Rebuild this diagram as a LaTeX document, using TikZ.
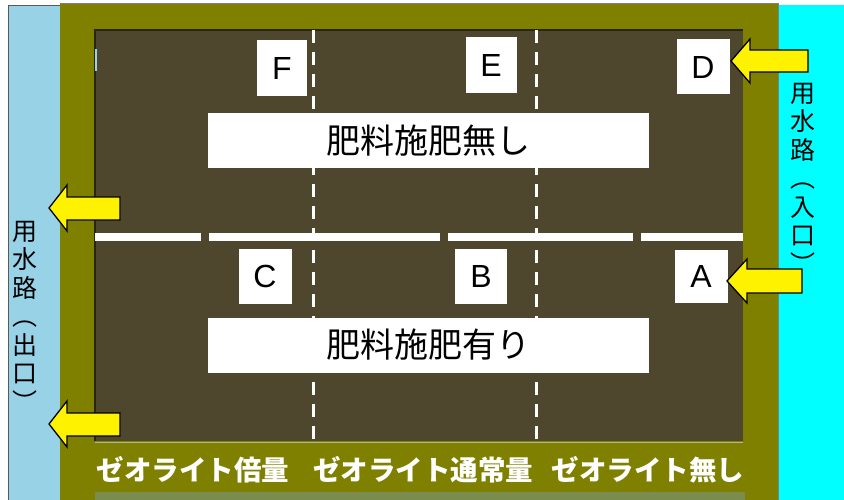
\documentclass[tikz,border=0pt]{standalone}
\usepackage{fontspec}
\setmainfont{Liberation Sans}
\newfontfamily\jp{Noto Sans CJK JP}
\definecolor{waterL}{RGB}{152,210,230}
\definecolor{waterR}{RGB}{0,255,255}
\definecolor{bank}{RGB}{128,128,0}
\definecolor{soil}{RGB}{78,71,45}
\definecolor{soiledge}{RGB}{40,36,22}
\definecolor{strip}{RGB}{122,140,78}
\tikzset{
  plotlabel/.style={fill=white, inner sep=0pt, font=\fontsize{32}{32}\selectfont},
  bandlabel/.style={fill=white, inner sep=0pt, minimum width=441pt, minimum height=55pt, font=\jp\fontsize{34}{34}\selectfont},
  zeolabel/.style={text=white, inner sep=0pt, font=\jp\bfseries\fontsize{27.5}{27.5}\selectfont},
  sidetext/.style={inner sep=0pt, align=center, anchor=north, font=\jp\fontsize{25}{28.5}\selectfont},
  inflow/.style={fill=yellow, draw=black, line width=1.3pt, line join=miter},
  levee/.style={white, line width=8pt},
  ridge/.style={white, line width=3pt, dash pattern=on 13pt off 9pt}
}
\begin{document}
\begin{tikzpicture}[x=1pt,y=-1pt]
\useasboundingbox (0,0) rectangle (844,500);
\fill[white] (0,0) rectangle (844,500);
% water channels and bank
\fill[waterL] (8,5) rectangle (60,500);
\draw[gray!70!black, line width=0.8pt] (8,500) -- (8,5) -- (60,5);
\fill[waterR] (778,5) rectangle (844,500);
\fill[bank] (60,3) rectangle (778,500);
\draw[gray, line width=0.6pt] (60,3) -- (778,3) -- (778,500);
% field
\fill[strip] (95,492) rectangle (745,500);
\fill[soil] (95,30) rectangle (743,441);
\draw[soiledge, line width=1.2pt] (95,441) -- (95,30) -- (743,30);
\draw[strip!60!white, line width=1pt] (95,442) -- (743,442);
\draw[waterL, line width=1.5pt] (96,49) -- (96,71);
% ridges
\coordinate (r1t) at (313,30); \coordinate (r1b) at (313,441);
\coordinate (r2t) at (536,30); \coordinate (r2b) at (536,441);
\draw[ridge] (r1t) -- (r1b);
\draw[ridge] (r2t) -- (r2b);
\coordinate (l0) at (95,237); \coordinate (l1) at (201,237);
\coordinate (l2) at (209,237); \coordinate (l3) at (440,237);
\coordinate (l4) at (448,237); \coordinate (l5) at (633,237);
\coordinate (l6) at (641,237); \coordinate (l7) at (743,237);
\draw[levee] (l0) -- (l1);
\draw[levee] (l2) -- (l3);
\draw[levee] (l4) -- (l5);
\draw[levee] (l6) -- (l7);
% plot labels
\node[plotlabel, minimum width=50pt, minimum height=56pt] (F) at (282,68) {F};
\node[plotlabel, minimum width=51pt, minimum height=56pt] (E) at (491,65) {E};
\node[plotlabel, minimum width=53pt, minimum height=55pt] (D) at (703,67) {D};
\node[plotlabel, minimum width=53pt, minimum height=55pt] (C) at (265,276) {C};
\node[plotlabel, minimum width=52pt, minimum height=55pt] (B) at (481,276) {B};
\node[plotlabel, minimum width=53pt, minimum height=53pt] (A) at (701,276) {A};
\node[bandlabel] (nofert) at (428,141) {肥料施肥無し};
\node[bandlabel] (fert) at (428,345) {肥料施肥有り};
% zeolite labels
\node[zeolabel] (z2) at (193,470) {ゼオライト倍量};
\node[zeolabel] (z1) at (423,470) {ゼオライト通常量};
\node[zeolabel] (z0) at (648,470) {ゼオライト無し};
% channel labels
\node[sidetext] (inlet) at (803,83) {用\\水\\路\\︵\\入\\口\\︶};
\node[sidetext] (outlet) at (25,221) {用\\水\\路\\︵\\出\\口\\︶};
% flow arrows
\draw[inflow] (731,61) -- (750,39) -- (750,50) -- (808,50) -- (808,72) -- (750,72) -- (750,83) -- cycle;
\draw[inflow] (727,281) -- (747,259) -- (747,269) -- (802,269) -- (802,293) -- (747,293) -- (747,303) -- cycle;
\draw[inflow] (49,208) -- (67,185) -- (67,197) -- (120,197) -- (120,220) -- (67,220) -- (67,231) -- cycle;
\draw[inflow] (49,424) -- (67,401) -- (67,413) -- (120,413) -- (120,436) -- (67,436) -- (67,447) -- cycle;
\end{tikzpicture}
\end{document}
